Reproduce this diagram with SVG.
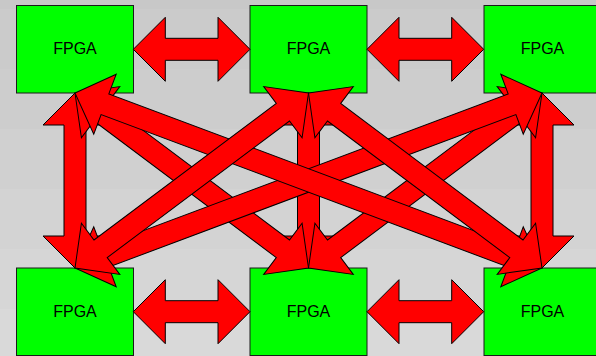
<svg xmlns="http://www.w3.org/2000/svg" xmlns:xlink="http://www.w3.org/1999/xlink" width="596" height="356" viewBox="0 0 596 356">
  <style>
    .box { fill: #00ff00; stroke: #1a1a1a; stroke-width: 1; }
    .label { font-family: "Liberation Sans", Arial, sans-serif; font-size: 16px; fill: #000; text-anchor: middle; }
    .arrow { fill: #ff0000; stroke: #000; stroke-width: 1; stroke-linejoin: miter; }
  </style>
  <defs>
    <!-- double-headed block arrows laid along +x: head 32 long, 64 wide, shaft 22 wide -->
    <path id="dbl117" d="M0,0 L32,-32 L32,-11 L84.7,-11 L84.7,-32 L116.7,0 L84.7,32 L84.7,11 L32,11 L32,32 Z"/>
    <path id="dbl175" d="M0,0 L32,-32 L32,-11 L143,-11 L143,-32 L175,0 L143,32 L143,11 L32,11 L32,32 Z"/>
    <path id="dbl292" d="M0,0 L32,-32 L32,-11 L259.8,-11 L259.8,-32 L291.8,0 L259.8,32 L259.8,11 L32,11 L32,32 Z"/>
    <path id="dbl499" d="M0,0 L32,-32 L32,-11 L466.7,-11 L466.7,-32 L498.7,0 L466.7,32 L466.7,11 L32,11 L32,32 Z"/>
  </defs>

  <!-- banded grey backdrop -->
  <g id="backdrop">
    <rect x="0" y="0" width="596" height="9" fill="#c8c8c8"/>
    <rect x="0" y="9" width="596" height="60" fill="#cbcbcb"/>
    <rect x="0" y="69" width="596" height="60" fill="#cdcdcd"/>
    <rect x="0" y="129" width="596" height="60" fill="#d0d0d0"/>
    <rect x="0" y="189" width="596" height="60" fill="#d3d3d3"/>
    <rect x="0" y="249" width="596" height="60" fill="#d6d6d6"/>
    <rect x="0" y="309" width="596" height="47" fill="#d9d9d9"/>
  </g>

  <!-- top row -->
  <g id="fpga-top-left">
    <rect class="box" x="16.5" y="5.5" width="117" height="87.5"/>
    <text class="label" x="75" y="54">FPGA</text>
  </g>
  <g id="fpga-top-middle">
    <rect class="box" x="250" y="5.5" width="117" height="87.5"/>
    <text class="label" x="308.5" y="54">FPGA</text>
  </g>
  <g id="fpga-top-right">
    <rect class="box" x="484" y="5.5" width="117" height="87.5"/>
    <text class="label" x="542.5" y="54">FPGA</text>
  </g>

  <!-- bottom row -->
  <g id="fpga-bottom-left">
    <rect class="box" x="16.5" y="268" width="117" height="87.5"/>
    <text class="label" x="75" y="317">FPGA</text>
  </g>
  <g id="fpga-bottom-middle">
    <rect class="box" x="250" y="268" width="117" height="87.5"/>
    <text class="label" x="308.5" y="317">FPGA</text>
  </g>
  <g id="fpga-bottom-right">
    <rect class="box" x="484" y="268" width="117" height="87.5"/>
    <text class="label" x="542.5" y="317">FPGA</text>
  </g>

  <g id="connectors">
    <!-- neighbours within a row -->
    <use class="arrow" xlink:href="#dbl117" href="#dbl117" transform="translate(133.3,49.3)"/>
    <use class="arrow" xlink:href="#dbl117" href="#dbl117" transform="translate(367,49.3)"/>
    <use class="arrow" xlink:href="#dbl117" href="#dbl117" transform="translate(133.3,311.7)"/>
    <use class="arrow" xlink:href="#dbl117" href="#dbl117" transform="translate(367,311.7)"/>

    <!-- links between the rows -->
    <use class="arrow" xlink:href="#dbl175" href="#dbl175" transform="translate(308.5,93) rotate(90)"/>
    <use class="arrow" xlink:href="#dbl175" href="#dbl175" transform="translate(75,93) rotate(90)"/>
    <use class="arrow" xlink:href="#dbl175" href="#dbl175" transform="translate(542,93) rotate(90)"/>
    <use class="arrow" xlink:href="#dbl292" href="#dbl292" transform="translate(75,93) rotate(36.85)"/>
    <use class="arrow" xlink:href="#dbl292" href="#dbl292" transform="translate(542,93) rotate(143.15)"/>
    <use class="arrow" xlink:href="#dbl499" href="#dbl499" transform="translate(542,93) rotate(159.46)"/>
    <use class="arrow" xlink:href="#dbl499" href="#dbl499" transform="translate(75,93) rotate(20.54)"/>
    <use class="arrow" xlink:href="#dbl292" href="#dbl292" transform="translate(308.5,93) rotate(143.15)"/>
    <use class="arrow" xlink:href="#dbl292" href="#dbl292" transform="translate(308.5,93) rotate(36.85)"/>
  </g>
</svg>
